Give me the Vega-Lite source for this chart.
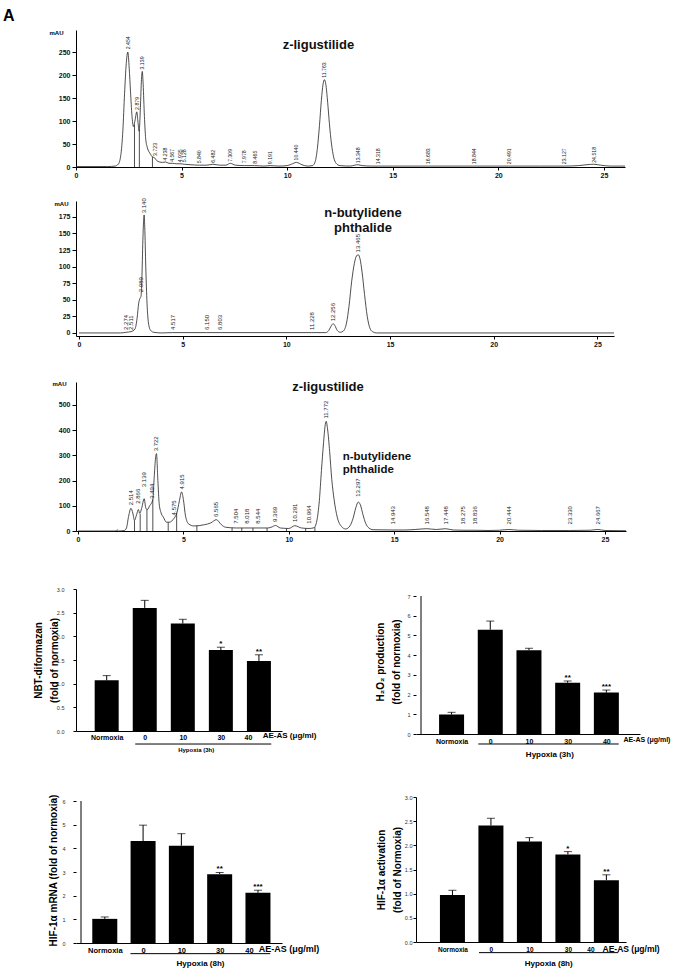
{
  "$schema": "https://vega.github.io/schema/vega-lite/v6.json",
  "padding": {"left": 3, "top": 7, "right": 2, "bottom": 2},
  "bounds": "flush",
  "spacing": 34,
  "config": {
    "font": "Liberation Sans",
    "view": {"stroke": null},
    "axis": {"domainColor": "#000", "tickColor": "#000", "labelColor": "#111", "grid": false, "labelFlush": false, "labelOverlap": false, "domainWidth": 1, "tickWidth": 1, "labelFont": "Liberation Sans", "titleFont": "Liberation Sans"}
  },
  "datasets": {
    "tr1": [
      {"t":0,"v":1},{"t":1.5,"v":1},{"t":1.85,"v":2},{"t":2.0,"v":6},{"t":2.12,"v":25},{"t":2.22,"v":80},{"t":2.3,"v":160},{"t":2.38,"v":225},{"t":2.454,"v":250},{"t":2.52,"v":215},{"t":2.58,"v":165},{"t":2.65,"v":112},{"t":2.72,"v":88},{"t":2.79,"v":100},{"t":2.879,"v":120},{"t":2.93,"v":100},{"t":2.99,"v":78},{"t":3.05,"v":130},{"t":3.1,"v":190},{"t":3.139,"v":208},{"t":3.18,"v":180},{"t":3.24,"v":110},{"t":3.3,"v":62},{"t":3.38,"v":42},{"t":3.5,"v":30},{"t":3.62,"v":22},{"t":3.723,"v":20},{"t":3.82,"v":14},{"t":3.95,"v":11},{"t":4.1,"v":10},{"t":4.238,"v":11},{"t":4.4,"v":8},{"t":4.567,"v":8},{"t":4.75,"v":7},{"t":4.935,"v":7},{"t":5.128,"v":6},{"t":5.4,"v":5},{"t":5.84,"v":4},{"t":6.2,"v":4},{"t":6.482,"v":6},{"t":6.8,"v":4},{"t":7.1,"v":4},{"t":7.309,"v":8},{"t":7.55,"v":4},{"t":7.978,"v":3},{"t":8.465,"v":3},{"t":8.9,"v":2},{"t":9.191,"v":3},{"t":9.6,"v":2},{"t":10.0,"v":3},{"t":10.2,"v":6},{"t":10.44,"v":10},{"t":10.7,"v":5},{"t":10.95,"v":2},{"t":11.2,"v":3},{"t":11.33,"v":12},{"t":11.43,"v":40},{"t":11.53,"v":90},{"t":11.62,"v":145},{"t":11.7,"v":180},{"t":11.763,"v":190},{"t":11.83,"v":180},{"t":11.92,"v":140},{"t":12.0,"v":95},{"t":12.1,"v":50},{"t":12.2,"v":22},{"t":12.32,"v":8},{"t":12.5,"v":3},{"t":13.0,"v":2},{"t":13.2,"v":4},{"t":13.348,"v":5},{"t":13.55,"v":3},{"t":14.0,"v":2},{"t":14.318,"v":2},{"t":15,"v":2},{"t":16.683,"v":2},{"t":18,"v":2},{"t":18.844,"v":2},{"t":20.491,"v":2},{"t":22,"v":2},{"t":23.127,"v":2},{"t":23.8,"v":3},{"t":24.2,"v":5},{"t":24.518,"v":6},{"t":24.85,"v":4},{"t":25.3,"v":2},{"t":26,"v":2}
    ],
    "dr1": [{"t":2.77,"v":92},{"t":3.0,"v":80},{"t":3.62,"v":22}],
    "lb1": [
      {"t":2.454,"v":254},{"t":2.879,"v":122},{"t":3.139,"v":210},{"t":3.723,"v":22},{"t":4.238,"v":12},{"t":4.567,"v":9},{"t":4.935,"v":8},{"t":5.128,"v":8},{"t":5.840,"v":6},{"t":6.482,"v":7},{"t":7.309,"v":9},{"t":7.978,"v":6},{"t":8.465,"v":5},{"t":9.191,"v":4},{"t":10.440,"v":12},{"t":11.763,"v":192},{"t":13.348,"v":6},{"t":14.318,"v":4},{"t":16.683,"v":4},{"t":18.844,"v":4},{"t":20.491,"v":4},{"t":23.127,"v":4},{"t":24.518,"v":7}
    ],
    "tr2": [
      {"t":0,"v":0},{"t":2.0,"v":0},{"t":2.274,"v":1},{"t":2.511,"v":2},{"t":2.7,"v":6},{"t":2.8,"v":22},{"t":2.88,"v":45},{"t":2.95,"v":53},{"t":2.989,"v":55},{"t":3.03,"v":80},{"t":3.08,"v":140},{"t":3.12,"v":172},{"t":3.14,"v":178},{"t":3.17,"v":160},{"t":3.22,"v":100},{"t":3.28,"v":45},{"t":3.35,"v":15},{"t":3.45,"v":4},{"t":3.6,"v":1},{"t":4.0,"v":0},{"t":4.517,"v":0.5},{"t":6.15,"v":0.5},{"t":6.803,"v":0.5},{"t":11.228,"v":0.5},{"t":11.9,"v":0.5},{"t":12.05,"v":4},{"t":12.17,"v":11},{"t":12.256,"v":14},{"t":12.34,"v":11},{"t":12.45,"v":4},{"t":12.6,"v":1},{"t":12.75,"v":3},{"t":12.9,"v":15},{"t":13.02,"v":40},{"t":13.15,"v":78},{"t":13.28,"v":105},{"t":13.38,"v":116},{"t":13.465,"v":118},{"t":13.55,"v":112},{"t":13.65,"v":92},{"t":13.77,"v":58},{"t":13.9,"v":25},{"t":14.02,"v":8},{"t":14.15,"v":2},{"t":14.35,"v":0},{"t":25.8,"v":0}
    ],
    "lb2": [
      {"t":2.274,"v":3},{"t":2.511,"v":3},{"t":2.989,"v":60},{"t":3.140,"v":179},{"t":4.517,"v":3},{"t":6.150,"v":3},{"t":6.803,"v":3},{"t":11.228,"v":3},{"t":12.256,"v":16},{"t":13.465,"v":120}
    ],
    "tr3": [
      {"t":0,"v":0},{"t":1.8,"v":0},{"t":1.85,"v":5},{"t":1.92,"v":0},{"t":2.2,"v":2},{"t":2.3,"v":12},{"t":2.4,"v":58},{"t":2.514,"v":90},{"t":2.6,"v":71},{"t":2.68,"v":42},{"t":2.78,"v":65},{"t":2.866,"v":85},{"t":2.93,"v":70},{"t":3.02,"v":90},{"t":3.139,"v":128},{"t":3.22,"v":90},{"t":3.29,"v":85},{"t":3.4,"v":100},{"t":3.494,"v":112},{"t":3.55,"v":125},{"t":3.62,"v":220},{"t":3.68,"v":290},{"t":3.722,"v":307},{"t":3.79,"v":200},{"t":3.85,"v":110},{"t":3.93,"v":75},{"t":4.05,"v":55},{"t":4.2,"v":35},{"t":4.35,"v":35},{"t":4.45,"v":40},{"t":4.575,"v":52},{"t":4.7,"v":75},{"t":4.8,"v":115},{"t":4.915,"v":155},{"t":5.0,"v":125},{"t":5.1,"v":60},{"t":5.25,"v":28},{"t":5.5,"v":20},{"t":6.0,"v":25},{"t":6.3,"v":32},{"t":6.565,"v":45},{"t":6.8,"v":25},{"t":7.0,"v":15},{"t":7.504,"v":12},{"t":8.018,"v":12},{"t":8.544,"v":12},{"t":9.0,"v":12},{"t":9.2,"v":16},{"t":9.369,"v":22},{"t":9.6,"v":12},{"t":10.0,"v":10},{"t":10.291,"v":21},{"t":10.6,"v":12},{"t":10.964,"v":10},{"t":11.2,"v":13},{"t":11.33,"v":40},{"t":11.45,"v":120},{"t":11.55,"v":240},{"t":11.65,"v":350},{"t":11.72,"v":415},{"t":11.772,"v":435},{"t":11.84,"v":405},{"t":11.94,"v":315},{"t":12.04,"v":205},{"t":12.15,"v":125},{"t":12.3,"v":55},{"t":12.5,"v":18},{"t":12.7,"v":8},{"t":12.9,"v":20},{"t":13.05,"v":50},{"t":13.18,"v":92},{"t":13.297,"v":115},{"t":13.4,"v":103},{"t":13.52,"v":65},{"t":13.65,"v":30},{"t":13.8,"v":12},{"t":14.0,"v":5},{"t":14.943,"v":4},{"t":15.5,"v":4},{"t":16.0,"v":6},{"t":16.548,"v":9},{"t":17.0,"v":6},{"t":17.448,"v":9},{"t":17.8,"v":4},{"t":18.275,"v":3},{"t":18.836,"v":3},{"t":19.5,"v":2},{"t":20.0,"v":3},{"t":20.444,"v":6},{"t":20.9,"v":3},{"t":22,"v":2},{"t":23.33,"v":2},{"t":24.3,"v":3},{"t":24.667,"v":6},{"t":25.0,"v":2},{"t":26,"v":1}
    ],
    "dr3": [{"t":2.68,"v":42},{"t":2.95,"v":68},{"t":3.27,"v":86},{"t":3.55,"v":125},{"t":4.28,"v":34},{"t":4.68,"v":72},{"t":5.64,"v":21},{"t":7.31,"v":13},{"t":7.77,"v":12},{"t":8.3,"v":12},{"t":8.97,"v":12},{"t":9.89,"v":10},{"t":10.8,"v":11},{"t":11.24,"v":15}],
    "lb3": [
      {"t":2.514,"v":98},{"t":2.866,"v":104},{"t":3.139,"v":170},{"t":3.494,"v":124},{"t":3.722,"v":312},{"t":4.575,"v":58},{"t":4.915,"v":161},{"t":6.565,"v":52},{"t":7.504,"v":25},{"t":8.018,"v":25},{"t":8.544,"v":25},{"t":9.369,"v":32},{"t":10.291,"v":32},{"t":10.964,"v":25},{"t":11.772,"v":442},{"t":13.297,"v":132},{"t":14.943,"v":22},{"t":16.548,"v":22},{"t":17.448,"v":22},{"t":18.275,"v":22},{"t":18.836,"v":22},{"t":20.444,"v":22},{"t":23.330,"v":22},{"t":24.667,"v":22}
    ],
    "nbt": [
      {"i":0,"g":"Normoxia","m":1.07,"hi":1.17,"s":""},{"i":1,"g":"0","m":2.60,"hi":2.76,"s":""},{"i":2,"g":"10","m":2.27,"hi":2.36,"s":""},{"i":3,"g":"30","m":1.71,"hi":1.77,"s":"*"},{"i":4,"g":"40","m":1.48,"hi":1.61,"s":"**"}
    ],
    "h2o2": [
      {"i":0,"g":"Normoxia","m":0.99,"hi":1.10,"s":""},{"i":1,"g":"0","m":5.29,"hi":5.73,"s":""},{"i":2,"g":"10","m":4.25,"hi":4.35,"s":""},{"i":3,"g":"30","m":2.60,"hi":2.69,"s":"**"},{"i":4,"g":"40","m":2.10,"hi":2.23,"s":"***"}
    ],
    "mrna": [
      {"i":0,"g":"Normoxia","m":1.02,"hi":1.10,"s":""},{"i":1,"g":"0","m":4.31,"hi":4.98,"s":""},{"i":2,"g":"10","m":4.11,"hi":4.62,"s":""},{"i":3,"g":"30","m":2.91,"hi":2.98,"s":"**"},{"i":4,"g":"40","m":2.12,"hi":2.23,"s":"***"}
    ],
    "act": [
      {"i":0,"g":"Normoxia","m":0.97,"hi":1.07,"s":""},{"i":1,"g":"0","m":2.41,"hi":2.56,"s":""},{"i":2,"g":"10","m":2.08,"hi":2.16,"s":""},{"i":3,"g":"30","m":1.81,"hi":1.87,"s":"*"},{"i":4,"g":"40","m":1.28,"hi":1.39,"s":"**"}
    ]
  },
  "vconcat": [
    {
      "width": 549, "height": 137,
      "layer": [
        {"data": {"name": "tr1"}, "mark": {"type": "line", "color": "#222", "strokeWidth": 0.8, "interpolate": "monotone"},
         "encoding": {
           "x": {"field": "t", "type": "quantitative", "scale": {"domain": [0, 26], "nice": false, "zero": false},
                 "axis": {"values": [0,5,10,15,20,25], "tickCount": 50, "format": "d", "title": null, "labelOverlap": false, "labelFlush": false, "tickSize": 3, "labelPadding": 1, "labelFontSize": 7, "labelFontWeight": "bold"}},
           "y": {"field": "v", "type": "quantitative", "scale": {"domain": [0, 298], "nice": false, "zero": false},
                 "axis": {"values": [0,50,100,150,200,250], "tickCount": 50, "format": "d", "labelOverlap": false, "title": "mAU", "titleAngle": 0, "titleAlign": "right", "titleBaseline": "middle", "titleX": -13, "titleY": 2, "titleFontSize": 6, "titleFontWeight": "bold", "tickSize": 4, "labelPadding": 2, "labelFontSize": 7, "labelFontWeight": "bold"}}
         }},
        {"data": {"name": "dr1"}, "mark": {"type": "rule", "color": "#222", "strokeWidth": 0.8},
         "encoding": {"x": {"field": "t", "type": "quantitative"}, "y": {"field": "v", "type": "quantitative"}, "y2": {"datum": 0}}},
        {"data": {"name": "lb1"}, "mark": {"type": "text", "angle": 270, "align": "left", "baseline": "middle", "dx": 1, "fontSize": 5.2, "color": "#222"},
         "encoding": {"x": {"field": "t", "type": "quantitative"}, "y": {"field": "v", "type": "quantitative"}, "text": {"field": "t", "type": "quantitative", "format": ".3f"}}},
        {"data": {"values": [{}]}, "mark": {"type": "text", "font": "Liberation Sans", "fontWeight": "bold", "fontSize": 13, "align": "center", "baseline": "middle", "color": "#111"},
         "encoding": {"x": {"datum": 11.48}, "y": {"datum": 265}, "text": {"value": "z-ligustilide"}}},
        {"data": {"values": [{}]}, "mark": {"type": "text", "font": "Liberation Sans", "fontWeight": "bold", "fontSize": 16, "align": "left", "baseline": "top", "color": "#000"},
         "encoding": {"x": {"datum": -3.457}, "y": {"datum": 345.9}, "text": {"value": "A"}}}
      ]
    },
    {
      "bounds": "flush",
      "spacing": 46,
      "vconcat": [
        {
          "width": 538, "height": 135,
          "layer": [
            {"data": {"name": "tr2"}, "mark": {"type": "line", "color": "#222", "strokeWidth": 0.8, "interpolate": "monotone"},
             "encoding": {
               "x": {"field": "t", "type": "quantitative", "scale": {"domain": [-0.145, 25.8], "nice": false, "zero": false},
                     "axis": {"values": [0,5,10,15,20,25], "tickCount": 50, "format": "d", "title": null, "labelOverlap": false, "labelFlush": false, "tickSize": 3, "labelPadding": 1, "labelFontSize": 7, "labelFontWeight": "bold"}},
               "y": {"field": "v", "type": "quantitative", "scale": {"domain": [-4.6, 199], "nice": false, "zero": false},
                     "axis": {"values": [0,25,50,75,100,125,150,175], "tickCount": 50, "format": "d", "labelOverlap": false, "title": "mAU", "titleAngle": 0, "titleAlign": "right", "titleBaseline": "middle", "titleX": -8, "titleY": 2, "titleFontSize": 6, "titleFontWeight": "bold", "tickSize": 4, "labelPadding": 2, "labelFontSize": 7, "labelFontWeight": "bold"}}
             }},
            {"data": {"name": "lb2"}, "mark": {"type": "text", "angle": 270, "align": "left", "baseline": "middle", "dx": 1, "fontSize": 6, "color": "#222"},
             "encoding": {"x": {"field": "t", "type": "quantitative"}, "y": {"field": "v", "type": "quantitative"}, "text": {"field": "t", "type": "quantitative", "format": ".3f"}}},
            {"data": {"values": [{}]}, "mark": {"type": "text", "font": "Liberation Sans", "fontWeight": "bold", "fontSize": 13, "lineHeight": 15, "align": "center", "baseline": "top", "color": "#111"},
             "encoding": {"x": {"datum": 13.696}, "y": {"datum": 190.5}, "text": {"value": ["n-butylidene", "phthalide"]}}}
          ]
        },
        {
          "bounds": "flush",
          "spacing": 58,
          "vconcat": [
            {
              "width": 550, "height": 149,
              "layer": [
                {"data": {"name": "tr3"}, "mark": {"type": "line", "color": "#222", "strokeWidth": 0.8, "interpolate": "monotone"},
                 "encoding": {
                   "x": {"field": "t", "type": "quantitative", "scale": {"domain": [-0.095, 26], "nice": false, "zero": false},
                         "axis": {"values": [0,5,10,15,20,25], "tickCount": 50, "format": "d", "title": null, "labelOverlap": false, "labelFlush": false, "tickSize": 3, "labelPadding": 1, "labelFontSize": 7, "labelFontWeight": "bold"}},
                   "y": {"field": "v", "type": "quantitative", "scale": {"domain": [0, 591], "nice": false, "zero": false},
                         "axis": {"values": [0,100,200,300,400,500], "tickCount": 50, "format": "d", "labelOverlap": false, "title": "mAU", "titleAngle": 0, "titleAlign": "right", "titleBaseline": "middle", "titleX": -10, "titleY": 1, "titleFontSize": 6, "titleFontWeight": "bold", "tickSize": 4, "labelPadding": 2, "labelFontSize": 7, "labelFontWeight": "bold"}}
                 }},
                {"data": {"name": "dr3"}, "mark": {"type": "rule", "color": "#222", "strokeWidth": 0.8},
                 "encoding": {"x": {"field": "t", "type": "quantitative"}, "y": {"field": "v", "type": "quantitative"}, "y2": {"datum": 0}}},
                {"data": {"name": "lb3"}, "mark": {"type": "text", "angle": 270, "align": "left", "baseline": "middle", "dx": 1, "fontSize": 6, "color": "#222"},
                 "encoding": {"x": {"field": "t", "type": "quantitative"}, "y": {"field": "v", "type": "quantitative"}, "text": {"field": "t", "type": "quantitative", "format": ".3f"}}},
                {"data": {"values": [{}]}, "mark": {"type": "text", "font": "Liberation Sans", "fontWeight": "bold", "fontSize": 13, "align": "center", "baseline": "middle", "color": "#111"},
                 "encoding": {"x": {"datum": 11.86}, "y": {"datum": 571}, "text": {"value": "z-ligustilide"}}},
                {"data": {"values": [{}]}, "mark": {"type": "text", "font": "Liberation Sans", "fontWeight": "bold", "fontSize": 11.5, "lineHeight": 13.2, "align": "left", "baseline": "top", "color": "#111"},
                 "encoding": {"x": {"datum": 12.56}, "y": {"datum": 316.5}, "text": {"value": ["n-butylidene", "phthalide"]}}}
              ]
            },
            {
              "columns": 2,
              "bounds": "flush",
              "spacing": {"row": 63, "column": 134},
              "concat": [
                {
                  "width": 206, "height": 142,
                  "layer": [
                    {"data": {"name": "nbt"}, "mark": {"type": "bar", "color": "#000", "size": 24},
                     "encoding": {
                       "x": {"field": "i", "type": "quantitative", "scale": {"domain": [-0.675, 4.475], "nice": false, "zero": false},
                             "axis": {"values": [0,1,2,3,4], "tickCount": 50, "labelExpr": "['Normoxia','0','10','30','40'][datum.value]", "title": null, "labelOverlap": false, "labelFlush": false, "ticks": false, "tickSize": 0, "labelPadding": 2, "labelFontSize": 7, "labelFontWeight": "bold", "labelColor": "#000", "labelOffset": {"condition": {"test": "datum.value == 4", "value": -11}, "value": 0}}},
                       "y": {"field": "m", "type": "quantitative", "scale": {"domain": [0, 3], "nice": false, "zero": false},
                             "axis": {"values": [0,0.5,1,1.5,2,2.5,3], "tickCount": 50, "format": ".1f", "labelOverlap": false, "tickSize": 3, "labelPadding": 9, "labelFontSize": 5.5, "labelColor": "#333", "title": ["NBT-diformazan", "(fold of normoxia)"], "titleFontSize": 10, "titleFontWeight": "bold", "titleLineHeight": 16, "titlePadding": -3, "titleColor": "#000"}}
                     }},
                    {"data": {"name": "nbt"}, "mark": {"type": "rule", "color": "#000", "strokeWidth": 1},
                     "encoding": {"x": {"field": "i", "type": "quantitative"}, "y": {"field": "m", "type": "quantitative"}, "y2": {"field": "hi"}}},
                    {"data": {"name": "nbt"}, "mark": {"type": "tick", "orient": "horizontal", "size": 8, "thickness": 1, "color": "#000"},
                     "encoding": {"x": {"field": "i", "type": "quantitative"}, "y": {"field": "hi", "type": "quantitative"}}},
                    {"data": {"name": "nbt"}, "mark": {"type": "text", "baseline": "bottom", "dy": 1, "fontSize": 8, "fontWeight": "bold", "color": "#000"},
                     "encoding": {"x": {"field": "i", "type": "quantitative"}, "y": {"field": "hi", "type": "quantitative"}, "text": {"field": "s", "type": "nominal"}}},
                    {"data": {"values": [{}]}, "mark": {"type": "rule", "color": "#000", "strokeWidth": 1},
                     "encoding": {"x": {"datum": 0.75}, "x2": {"datum": 4.325}, "y": {"datum": -0.275}}},
                    {"data": {"values": [{}]}, "mark": {"type": "text", "fontSize": 6, "fontWeight": "bold", "align": "center", "baseline": "middle", "color": "#000"},
                     "encoding": {"x": {"datum": 2.35}, "y": {"datum": -0.40}, "text": {"value": "Hypoxia (3h)"}}},
                    {"data": {"values": [{}]}, "mark": {"type": "text", "fontSize": 8, "fontWeight": "bold", "align": "left", "baseline": "middle", "color": "#000"},
                     "encoding": {"x": {"datum": 4.1}, "y": {"datum": -0.106}, "text": {"value": "AE-AS (μg/ml)"}}}
                  ]
                },
                {
                  "width": 224, "height": 145,
                  "layer": [
                    {"data": {"name": "h2o2"}, "mark": {"type": "bar", "color": "#000", "size": 25},
                     "encoding": {
                       "x": {"field": "i", "type": "quantitative", "scale": {"domain": [-0.79, 4.74], "nice": false, "zero": false},
                             "axis": {"values": [0,1,2,3,4], "tickCount": 50, "labelExpr": "['Normoxia','0','10','30','40'][datum.value]", "title": null, "labelOverlap": false, "labelFlush": false, "ticks": false, "tickSize": 0, "labelPadding": 3, "labelFontSize": 7, "labelFontWeight": "bold", "labelColor": "#000"}},
                       "y": {"field": "m", "type": "quantitative", "scale": {"domain": [0, 7.357], "nice": false, "zero": false},
                             "axis": {"values": [0,1,2,3,4,5,6,7], "tickCount": 50, "format": "d", "labelOverlap": false, "domain": false, "tickSize": 3, "labelPadding": 3, "labelFontSize": 5.5, "labelColor": "#333", "title": ["H₂O₂ production", "(fold of normoxia)"], "titleFontSize": 10, "titleFontWeight": "bold", "titleLineHeight": 16, "titlePadding": 5, "titleColor": "#000"}}
                     }},
                    {"data": {"values": [{}]}, "mark": {"type": "rule", "color": "#000", "strokeWidth": 1},
                     "encoding": {"x": {"datum": -0.79}, "y": {"datum": 0}, "y2": {"datum": 7}}},
                    {"data": {"name": "h2o2"}, "mark": {"type": "rule", "color": "#000", "strokeWidth": 1},
                     "encoding": {"x": {"field": "i", "type": "quantitative"}, "y": {"field": "m", "type": "quantitative"}, "y2": {"field": "hi"}}},
                    {"data": {"name": "h2o2"}, "mark": {"type": "tick", "orient": "horizontal", "size": 8, "thickness": 1, "color": "#000"},
                     "encoding": {"x": {"field": "i", "type": "quantitative"}, "y": {"field": "hi", "type": "quantitative"}}},
                    {"data": {"name": "h2o2"}, "mark": {"type": "text", "baseline": "bottom", "dy": 1, "fontSize": 8, "fontWeight": "bold", "color": "#000"},
                     "encoding": {"x": {"field": "i", "type": "quantitative"}, "y": {"field": "hi", "type": "quantitative"}, "text": {"field": "s", "type": "nominal"}}},
                    {"data": {"values": [{}]}, "mark": {"type": "rule", "color": "#000", "strokeWidth": 1},
                     "encoding": {"x": {"datum": 0.69}, "x2": {"datum": 4.32}, "y": {"datum": -0.507}}},
                    {"data": {"values": [{}]}, "mark": {"type": "text", "fontSize": 8, "fontWeight": "bold", "align": "center", "baseline": "middle", "color": "#000"},
                     "encoding": {"x": {"datum": 2.54}, "y": {"datum": -1.05}, "text": {"value": "Hypoxia (3h)"}}},
                    {"data": {"values": [{}]}, "mark": {"type": "text", "fontSize": 7, "fontWeight": "bold", "align": "left", "baseline": "middle", "color": "#000"},
                     "encoding": {"x": {"datum": 4.44}, "y": {"datum": -0.30}, "text": {"value": "AE-AS (μg/ml)"}}}
                  ]
                },
                {
                  "width": 206, "height": 146,
                  "layer": [
                    {"data": {"name": "mrna"}, "mark": {"type": "bar", "color": "#000", "size": 25},
                     "encoding": {
                       "x": {"field": "i", "type": "quantitative", "scale": {"domain": [-0.621, 4.497], "nice": false, "zero": false},
                             "axis": {"values": [0,1,2,3,4], "tickCount": 50, "labelExpr": "['Normoxia','0','10','30','40'][datum.value]", "title": null, "labelOverlap": false, "labelFlush": false, "ticks": false, "tickSize": 0, "labelPadding": 3, "labelFontSize": 7.5, "labelFontWeight": "bold", "labelColor": "#000", "labelOffset": {"condition": {"test": "datum.value == 4", "value": -9}, "value": 0}}},
                       "y": {"field": "m", "type": "quantitative", "scale": {"domain": [0, 6.17], "nice": false, "zero": false},
                             "axis": {"values": [0,1,2,3,4,5,6], "tickCount": 50, "format": "d", "labelOverlap": false, "domain": false, "tickSize": 3, "labelPadding": 8, "labelFontSize": 5.5, "labelColor": "#333", "title": "HIF-1α mRNA (fold of normoxia)", "titleFontSize": 10, "titleFontWeight": "bold", "titlePadding": 3, "titleColor": "#000"}}
                     }},
                    {"data": {"values": [{}]}, "mark": {"type": "rule", "color": "#000", "strokeWidth": 1},
                     "encoding": {"x": {"datum": -0.621}, "y": {"datum": 0}, "y2": {"datum": 6}}},
                    {"data": {"name": "mrna"}, "mark": {"type": "rule", "color": "#000", "strokeWidth": 1},
                     "encoding": {"x": {"field": "i", "type": "quantitative"}, "y": {"field": "m", "type": "quantitative"}, "y2": {"field": "hi"}}},
                    {"data": {"name": "mrna"}, "mark": {"type": "tick", "orient": "horizontal", "size": 8, "thickness": 1, "color": "#000"},
                     "encoding": {"x": {"field": "i", "type": "quantitative"}, "y": {"field": "hi", "type": "quantitative"}}},
                    {"data": {"name": "mrna"}, "mark": {"type": "text", "baseline": "bottom", "dy": 1, "fontSize": 8, "fontWeight": "bold", "color": "#000"},
                     "encoding": {"x": {"field": "i", "type": "quantitative"}, "y": {"field": "hi", "type": "quantitative"}, "text": {"field": "s", "type": "nominal"}}},
                    {"data": {"values": [{}]}, "mark": {"type": "rule", "color": "#000", "strokeWidth": 1},
                     "encoding": {"x": {"datum": 0.67}, "x2": {"datum": 4.32}, "y": {"datum": -0.45}}},
                    {"data": {"values": [{}]}, "mark": {"type": "text", "fontSize": 8, "fontWeight": "bold", "align": "center", "baseline": "middle", "color": "#000"},
                     "encoding": {"x": {"datum": 2.5}, "y": {"datum": -0.90}, "text": {"value": "Hypoxia (8h)"}}},
                    {"data": {"values": [{}]}, "mark": {"type": "text", "fontSize": 9, "fontWeight": "bold", "align": "left", "baseline": "middle", "color": "#000"},
                     "encoding": {"x": {"datum": 4.02}, "y": {"datum": -0.27}, "text": {"value": "AE-AS (μg/ml)"}}}
                  ]
                },
                {
                  "width": 210, "height": 145,
                  "layer": [
                    {"data": {"name": "act"}, "mark": {"type": "bar", "color": "#000", "size": 25},
                     "encoding": {
                       "x": {"field": "i", "type": "quantitative", "scale": {"domain": [-0.817, 4.38], "nice": false, "zero": false},
                             "axis": {"values": [0,1,2,3,4], "tickCount": 50, "labelExpr": "['Normoxia','0','10','30','40'][datum.value]", "title": null, "labelOverlap": false, "labelFlush": false, "ticks": false, "tickSize": 0, "labelPadding": 4, "labelFontSize": 6.5, "labelFontWeight": "bold", "labelColor": "#000", "labelOffset": {"condition": {"test": "datum.value == 4", "value": -16}, "value": 0}}},
                       "y": {"field": "m", "type": "quantitative", "scale": {"domain": [0, 3], "nice": false, "zero": false},
                             "axis": {"values": [0,0.5,1,1.5,2,2.5,3], "tickCount": 50, "format": ".1f", "labelOverlap": false, "tickSize": 3, "labelPadding": 1, "labelFontSize": 5.5, "labelColor": "#333", "title": ["HIF-1α activation", "(fold of Normoxia)"], "titleFontSize": 10, "titleFontWeight": "bold", "titleLineHeight": 16, "titlePadding": 2, "titleColor": "#000"}}
                     }},
                    {"data": {"name": "act"}, "mark": {"type": "rule", "color": "#000", "strokeWidth": 1},
                     "encoding": {"x": {"field": "i", "type": "quantitative"}, "y": {"field": "m", "type": "quantitative"}, "y2": {"field": "hi"}}},
                    {"data": {"name": "act"}, "mark": {"type": "tick", "orient": "horizontal", "size": 8, "thickness": 1, "color": "#000"},
                     "encoding": {"x": {"field": "i", "type": "quantitative"}, "y": {"field": "hi", "type": "quantitative"}}},
                    {"data": {"name": "act"}, "mark": {"type": "text", "baseline": "bottom", "dy": 1, "fontSize": 8, "fontWeight": "bold", "color": "#000"},
                     "encoding": {"x": {"field": "i", "type": "quantitative"}, "y": {"field": "hi", "type": "quantitative"}, "text": {"field": "s", "type": "nominal"}}},
                    {"data": {"values": [{}]}, "mark": {"type": "rule", "color": "#000", "strokeWidth": 1},
                     "encoding": {"x": {"datum": 0.69}, "x2": {"datum": 4.31}, "y": {"datum": -0.22}}},
                    {"data": {"values": [{}]}, "mark": {"type": "text", "fontSize": 8, "fontWeight": "bold", "align": "center", "baseline": "middle", "color": "#000"},
                     "encoding": {"x": {"datum": 2.5}, "y": {"datum": -0.45}, "text": {"value": "Hypoxia (8h)"}}},
                    {"data": {"values": [{}]}, "mark": {"type": "text", "fontSize": 8.5, "fontWeight": "bold", "align": "left", "baseline": "middle", "color": "#000"},
                     "encoding": {"x": {"datum": 3.90}, "y": {"datum": -0.151}, "text": {"value": "AE-AS (μg/ml)"}}}
                  ]
                }
              ]
            }
          ]
        }
      ]
    }
  ]
}
